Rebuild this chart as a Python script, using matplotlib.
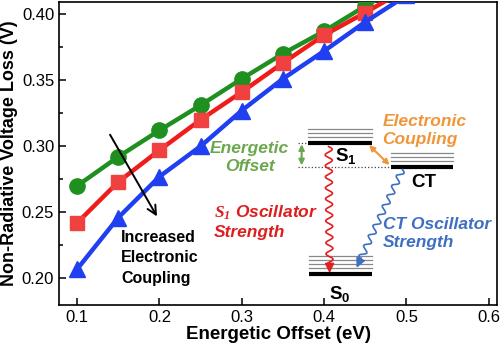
import numpy as np
import matplotlib
matplotlib.use("Agg")
import matplotlib.pyplot as plt
from matplotlib.ticker import MultipleLocator

plt.rcParams['font.family'] = ['Liberation Sans', 'DejaVu Sans']
plt.rcParams['mathtext.fontset'] = 'custom'
plt.rcParams['mathtext.rm'] = 'Liberation Sans'
plt.rcParams['mathtext.sf'] = 'Liberation Sans:bold'
plt.rcParams['mathtext.bf'] = 'Liberation Serif:italic:bold'

# data
offset = [0.10, 0.15, 0.20, 0.25, 0.30, 0.35, 0.40, 0.45, 0.50]
loss_low = [0.270, 0.292, 0.312, 0.331, 0.351, 0.370, 0.387, 0.406, 0.424]   # green circles
loss_mid = [0.242, 0.273, 0.297, 0.320, 0.341, 0.363, 0.384, 0.401, 0.419]   # red squares
loss_high = [0.207, 0.246, 0.277, 0.300, 0.327, 0.351, 0.372, 0.394, 0.414]  # blue triangles

fig = plt.figure(figsize=(5, 3.5), dpi=100)
ax = fig.add_axes([0.118, 0.129, 0.876, 0.865])

ax.plot(offset, loss_low, color='#1f8f1f', lw=3.2, marker='o', ms=11, zorder=3)
ax.plot(offset, loss_mid, color='#f01c1c', lw=3.2, marker='s', ms=10,
        mfc='#f04040', mec='#f04040', zorder=4)
ax.plot(offset, loss_high, color='#1f3ff0', lw=3.2, marker='^', ms=12, zorder=5)

ax.set_xlim(0.078, 0.61)
ax.set_ylim(0.18, 0.409)
ax.xaxis.set_major_locator(MultipleLocator(0.1))
ax.yaxis.set_major_locator(MultipleLocator(0.05))
ax.yaxis.set_minor_locator(MultipleLocator(0.025))
ax.tick_params(direction='in', labelsize=12, width=1.1, length=5)
ax.tick_params(which='minor', direction='in', width=1.1, length=3)
ax.set_xticklabels([f'{t:.1f}' for t in ax.get_xticks()])
ax.set_yticklabels([f'{t:.2f}' for t in ax.get_yticks()])
for s in ax.spines.values():
    s.set_linewidth(1.2)
ax.set_xlabel('Energetic Offset (eV)', fontsize=13.5, fontweight='bold', labelpad=1)
ax.set_ylabel('Non-Radiative Voltage Loss (V)', fontsize=13, fontweight='bold', labelpad=3)

# --- energy level diagram ---
def level(x0, x1, y, grays, dy):
    ax.plot([x0, x1], [y, y], color='black', lw=3, solid_capstyle='butt', zorder=6)
    for i in range(grays):
        yy = y + 0.0045 + i * dy
        ax.plot([x0, x1], [yy, yy], color='#888888', lw=0.9, zorder=6)

level(0.381, 0.458, 0.3025, 3, 0.003)
level(0.481, 0.557, 0.2840, 3, 0.003)
level(0.382, 0.458, 0.2035, 4, 0.0031)

ax.plot([0.368, 0.381], [0.3025, 0.3025], ls=':', color='#444444', lw=0.9, zorder=6)
ax.plot([0.368, 0.481], [0.2845, 0.2845], ls=':', color='#444444', lw=0.9, zorder=6)
ax.annotate('', xy=(0.3727, 0.3015), xytext=(0.3727, 0.2855),
            arrowprops=dict(arrowstyle='<|-|>', color='#6aa84f', lw=1.5,
                            mutation_scale=8, shrinkA=0, shrinkB=0), zorder=7)
ax.annotate('', xy=(0.4545, 0.3008), xytext=(0.4795, 0.2858),
            arrowprops=dict(arrowstyle='<|-|>', color='#f0963a', lw=1.5,
                            mutation_scale=8, shrinkA=0, shrinkB=0), zorder=7)

ax.text(0.427, 0.2925, r'$\mathsf{S_1}$', fontsize=13.5, ha='center', va='center', zorder=7)
ax.text(0.521, 0.2726, 'CT', fontsize=13.5, fontweight='bold', ha='center', va='center', zorder=7)
ax.text(0.419, 0.1885, r'$\mathsf{S_0}$', fontsize=13.5, ha='center', va='center', zorder=7)

def wavy(start, end, color, amp=3.5, wl=11):
    tr = ax.transData
    p0 = tr.transform(start)
    p1 = tr.transform(end)
    d = p1 - p0
    L = np.hypot(*d)
    u = d / L
    n = np.array([-u[1], u[0]])
    s = np.linspace(0, L - 10, 300)
    pts = p0 + np.outer(s, u) + np.outer(amp * np.sin(2 * np.pi * s / wl), n)
    data = tr.inverted().transform(pts)
    ax.plot(data[:, 0], data[:, 1], color=color, lw=1.2, zorder=7)
    tail = tr.inverted().transform(p1 - 11 * u)
    ax.annotate('', xy=end, xytext=tail,
                arrowprops=dict(arrowstyle='-|>', color=color, lw=1.2,
                                mutation_scale=14, shrinkA=0, shrinkB=0), zorder=7)

wavy((0.4055, 0.2997), (0.4067, 0.2040), '#e02020')
wavy((0.4952, 0.2824), (0.4394, 0.2080), '#3e6fc2', amp=3)

# black arrow and labels
ax.annotate('', xy=(0.197, 0.2469), xytext=(0.140, 0.3087),
            arrowprops=dict(arrowstyle='->', color='black', lw=1.4,
                            mutation_scale=16, shrinkA=0, shrinkB=0), zorder=7)
ax.text(0.1535, 0.2155, 'Increased\nElectronic\nCoupling', fontsize=11.5,
        fontweight='bold', ha='left', va='center', linespacing=1.45, zorder=7)
ax.text(0.3095, 0.2915, 'Energetic\nOffset', fontsize=12.5, fontweight='bold',
        style='italic', color='#6aa84f', ha='center', va='center', linespacing=1.25, zorder=7)
ax.text(0.266, 0.2428, r'$\mathbf{S_1}$ Oscillator' + '\nStrength', fontsize=12.5,
        fontweight='bold', style='italic', color='#dc1e1e', ha='left', va='center',
        linespacing=1.25, zorder=7)
ax.text(0.471, 0.3121, 'Electronic\nCoupling', fontsize=12.5, fontweight='bold',
        style='italic', color='#f0963a', ha='left', va='center', linespacing=1.25, zorder=7)
ax.text(0.471, 0.2341, 'CT Oscillator\nStrength', fontsize=12.5, fontweight='bold',
        style='italic', color='#3e6fc2', ha='left', va='center', linespacing=1.25, zorder=7)

fig.savefig('out.png', dpi=100)
